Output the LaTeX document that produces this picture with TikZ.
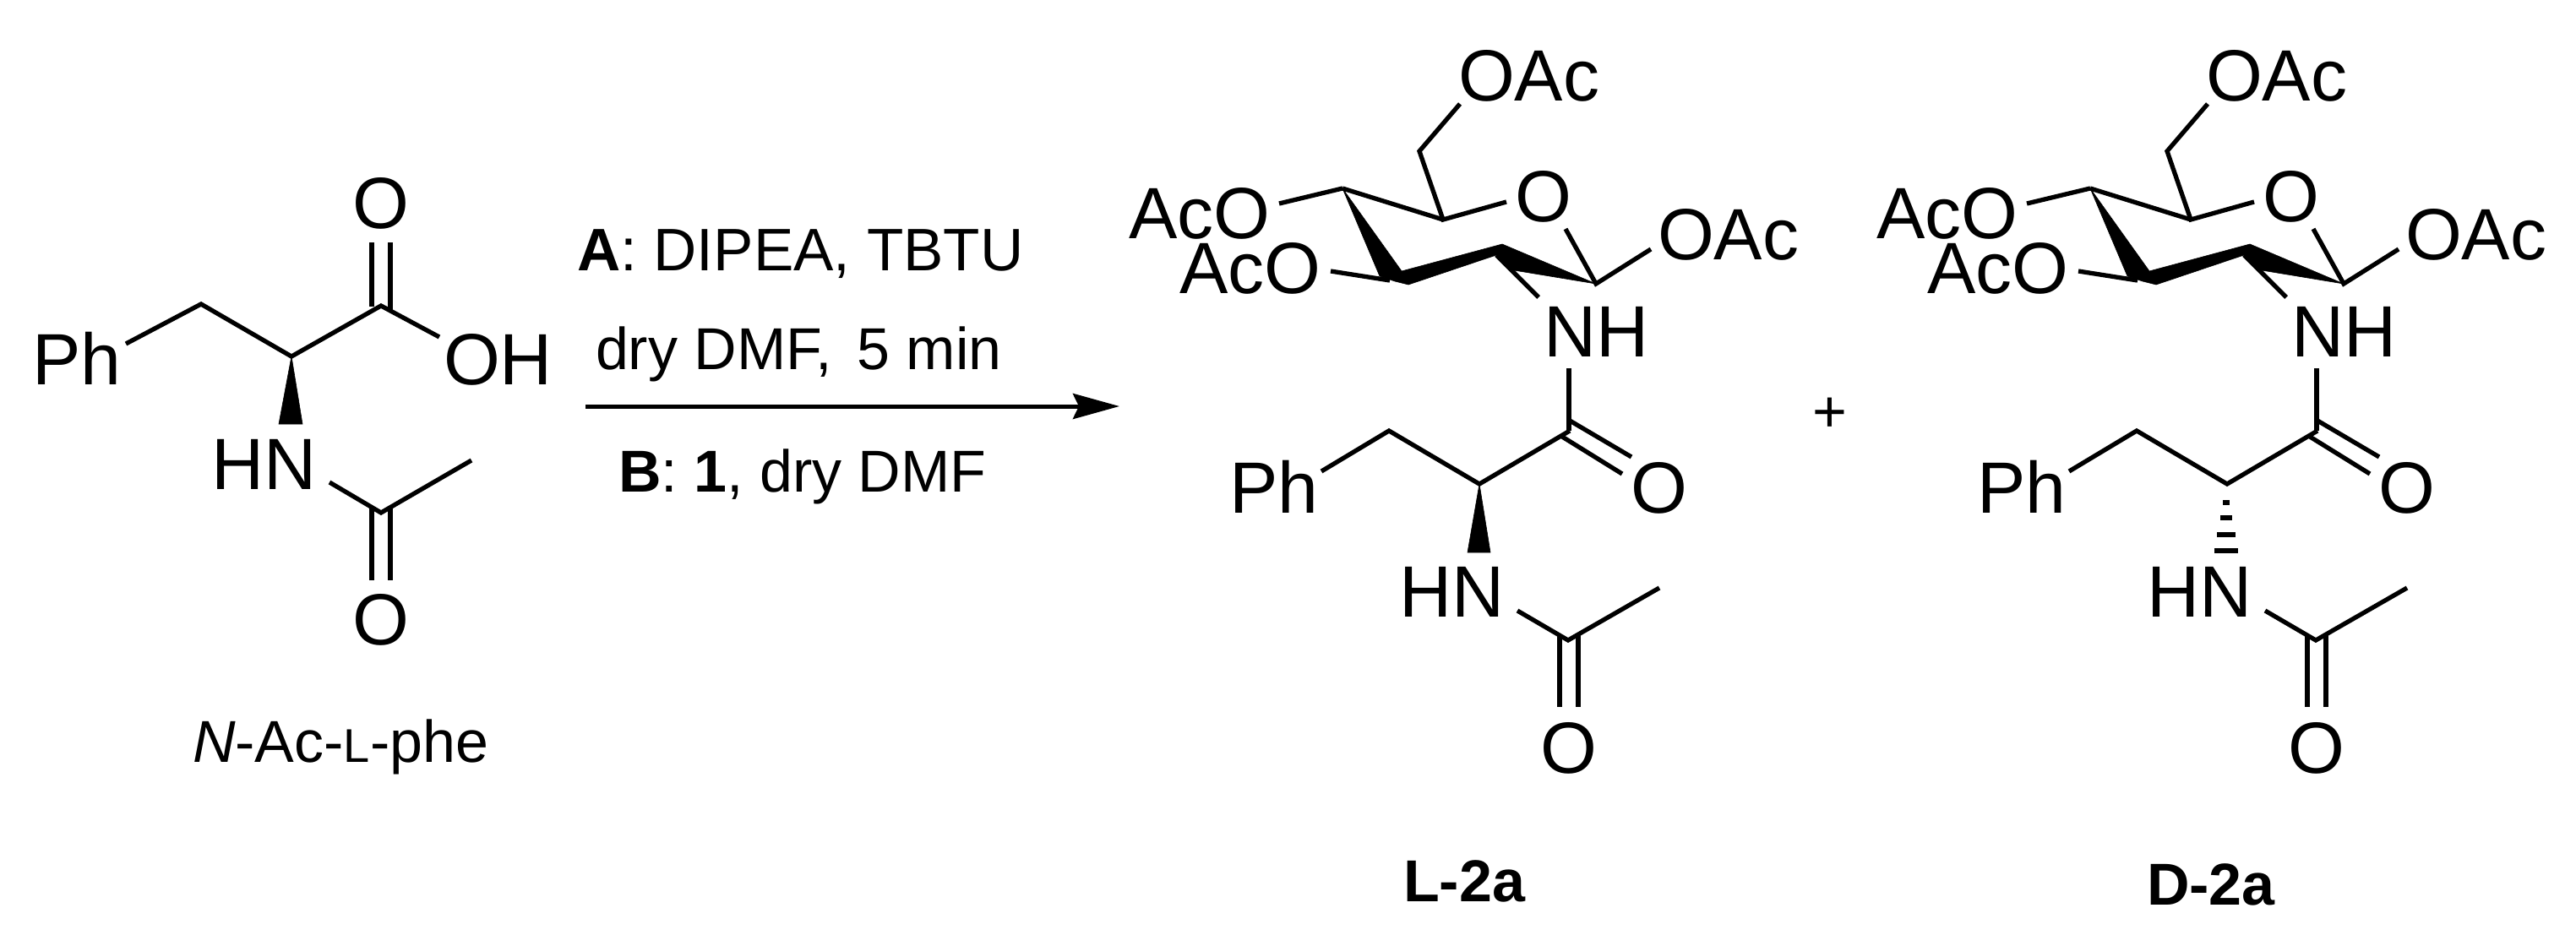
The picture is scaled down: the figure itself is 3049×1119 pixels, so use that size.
\documentclass[tikz,border=0pt]{standalone}
\usepackage{fontspec}
\setmainfont{Liberation Sans}
\usetikzlibrary{arrows.meta}
\tikzset{
  atomfont/.style={font=\fontsize{86}{90}\selectfont},
  atom/.style={atomfont,inner sep=0pt,outer sep=0pt,anchor=base west,text=black},
  atomc/.style={atomfont,inner sep=0pt,outer sep=0pt,anchor=base,text=black},
  label/.style={font=\fontsize{70}{80}\selectfont,inner sep=0pt,outer sep=0pt,anchor=base west,text=black},
  boldlabel/.style={label,font=\fontsize{70}{80}\selectfont\bfseries},
  bond/.style={draw=black,line width=5.3pt,line join=miter,line cap=butt},
  solidwedge/.style={fill=black,draw=black,line width=0.6pt,line join=miter},
  hashbar/.style={draw=black,line width=5.5pt},
  rxn/.style={draw=black,line width=5pt,-{Stealth[length=55pt,width=30pt,inset=7pt]}}
}
% amide side chain shared by both products
\newcommand{\sidechain}[1]{%
  \node[atom] (#1Ph) at (1455.5,607) {Ph};
  \node[atomc] (#1Oa) at (1964,607) {O};
  \node[atom] (#1HN) at (1656,730) {HN};
  \node[atomc] (#1Ob) at (1857,915) {O};
  \coordinate (#1p1) at (1564,558);
  \coordinate (#1p2) at (1644,510);
  \coordinate (#1ca) at (1751,573);
  \coordinate (#1cc) at (1858,510);
  \coordinate (#1d1) at (1858,498);
  \coordinate (#1d2) at (1931,541);
  \coordinate (#1d3) at (1849,517);
  \coordinate (#1d4) at (1920,561);
  \coordinate (#1n1) at (1796,723);
  \coordinate (#1ac) at (1856,758);
  \coordinate (#1me) at (1964,696);
  \coordinate (#1e1) at (1846,752);
  \coordinate (#1e2) at (1846,837);
  \coordinate (#1e3) at (1868,752);
  \coordinate (#1e4) at (1868,837);
  \draw[bond] (#1p1) -- (#1p2) -- (#1ca) -- (#1cc);
  \draw[bond] (#1d1) -- (#1d2);
  \draw[bond] (#1d3) -- (#1d4);
  \draw[bond] (#1n1) -- (#1ac) -- (#1me);
  \draw[bond] (#1e1) -- (#1e2);
  \draw[bond] (#1e3) -- (#1e4);
}
% acetylated sugar shared by both products
\newcommand{\sugar}[1]{%
  \node[atom] (#1OAc6) at (1726,119) {OAc};
  \node[atom] (#1AcOa) at (1336,282) {AcO};
  \node[atom] (#1AcOb) at (1396,347) {AcO};
  \node[atomc] (#1Oring) at (1827,262) {O};
  \node[atom] (#1OAc1) at (1962,307) {OAc};
  \node[atom] (#1NH) at (1827,422) {NH};
  \coordinate (#1o6) at (1728,123);
  \coordinate (#1c6) at (1680,179);
  \coordinate (#1c5) at (1708,260);
  \coordinate (#1or) at (1783,239);
  \coordinate (#1c4) at (1589,223);
  \coordinate (#1o4) at (1514,241);
  \coordinate (#1o3) at (1575,321);
  \coordinate (#1c3) at (1645,332);
  \coordinate (#1or2) at (1853,271);
  \coordinate (#1c1) at (1889,336);
  \coordinate (#1o1) at (1954,295);
  \coordinate (#1c2) at (1771,302);
  \coordinate (#1n2) at (1821,352);
  \coordinate (#1na) at (1857,436);
  \coordinate (#1nb) at (1857,510);
  \coordinate (#1w1) at (1659,321);
  \coordinate (#1w2) at (1778,289);
  \coordinate (#1w3) at (1792,320);
  \coordinate (#1w5) at (1667,337);
  \coordinate (#1w6) at (1651,333);
  \coordinate (#1w7) at (1633,327);
  \fill[solidwedge] (#1c4) -- (#1w1) -- (#1w2) -- (#1c1) -- (#1w3) -- (#1c2) -- (#1w5) -- (#1w6) -- (#1w7) -- cycle;
  \draw[bond] (#1o6) -- (#1c6) -- (#1c5) -- (#1or);
  \draw[bond] (#1c4) -- (#1c5);
  \draw[bond] (#1o4) -- (#1c4);
  \draw[bond] (#1o3) -- (#1c3);
  \draw[bond] (#1or2) -- (#1c1) -- (#1o1);
  \draw[bond] (#1c2) -- (#1n2);
  \draw[bond] (#1na) -- (#1nb);
}
\begin{document}
\begin{tikzpicture}[x=1pt,y=-1pt]
\useasboundingbox (0,0) rectangle (3049,1119);
\fill[white] (0,0) rectangle (3049,1119);

% starting material
\node[atom] (sPh) at (38.5,455) {Ph};
\node[atom] (sOH) at (525,455) {OH};
\node[atomc] (sOa) at (451,270) {O};
\node[atom] (sHN) at (250,579) {HN};
\node[atomc] (sOb) at (451,763) {O};
\coordinate (s1) at (149,407);
\coordinate (s2) at (238,360);
\coordinate (sca) at (345,422);
\coordinate (scc) at (451,362);
\coordinate (soh) at (520,399);
\coordinate (sd1) at (440,287);
\coordinate (sd2) at (440,363);
\coordinate (sd3) at (462,287);
\coordinate (sd4) at (462,369);
\coordinate (sn) at (390,571);
\coordinate (sac) at (451,607);
\coordinate (sme) at (558,545);
\coordinate (se1) at (440,602);
\coordinate (se2) at (440,687);
\coordinate (se3) at (462,602);
\coordinate (se4) at (462,687);
\coordinate (sw1) at (330,502);
\coordinate (sw2) at (358,502);
\draw[bond] (s1) -- (s2) -- (sca) -- (scc) -- (soh);
\draw[bond] (sd1) -- (sd2);
\draw[bond] (sd3) -- (sd4);
\draw[bond] (sn) -- (sac) -- (sme);
\draw[bond] (se1) -- (se2);
\draw[bond] (se3) -- (se4);
\fill[solidwedge] (sca) -- (sw1) -- (sw2) -- cycle;
\node[label] (sname) at (228,902) {\textit{N}-Ac-{\fontsize{56}{60}\selectfont L}-phe};

% reaction arrow and conditions
\node[label] (condA) at (683,320) {\fontsize{71}{80}\selectfont\textbf{A}: DIPEA, TBTU};
\node[label] (condD) at (705,437) {dry DMF,\hspace{10pt} 5 min};
\node[label] (condB) at (732,582) {\textbf{B}: \textbf{1}, dry DMF};
\coordinate (arrS) at (693,481);
\coordinate (arrE) at (1325,481);
\draw[rxn] (arrS) -- (arrE);

% product L-2a
\sugar{l}
\sidechain{l}
\coordinate (lw1) at (1737,654);
\coordinate (lw2) at (1764,654);
\fill[solidwedge] (lca) -- (lw1) -- (lw2) -- cycle;
\node[boldlabel] (lname) at (1661,1067) {L-2a};

% plus
\node[label,anchor=base] (plus) at (2166,511) {+};

% product D-2a
\begin{scope}[shift={(885,0)}]
\sugar{d}
\sidechain{d}
\coordinate (dh1l) at (1746.3,595);
\coordinate (dh1r) at (1753.7,595);
\coordinate (dh2l) at (1743,613);
\coordinate (dh2r) at (1757,613);
\coordinate (dh3l) at (1739.3,633);
\coordinate (dh3r) at (1760.7,633);
\coordinate (dh4l) at (1736.2,652);
\coordinate (dh4r) at (1763.8,652);
\draw[hashbar] (dh1l) -- (dh1r);
\draw[hashbar] (dh2l) -- (dh2r);
\draw[hashbar] (dh3l) -- (dh3r);
\draw[hashbar] (dh4l) -- (dh4r);
\end{scope}
\node[boldlabel] (dname) at (2541,1071) {D-2a};
\end{tikzpicture}
\end{document}
